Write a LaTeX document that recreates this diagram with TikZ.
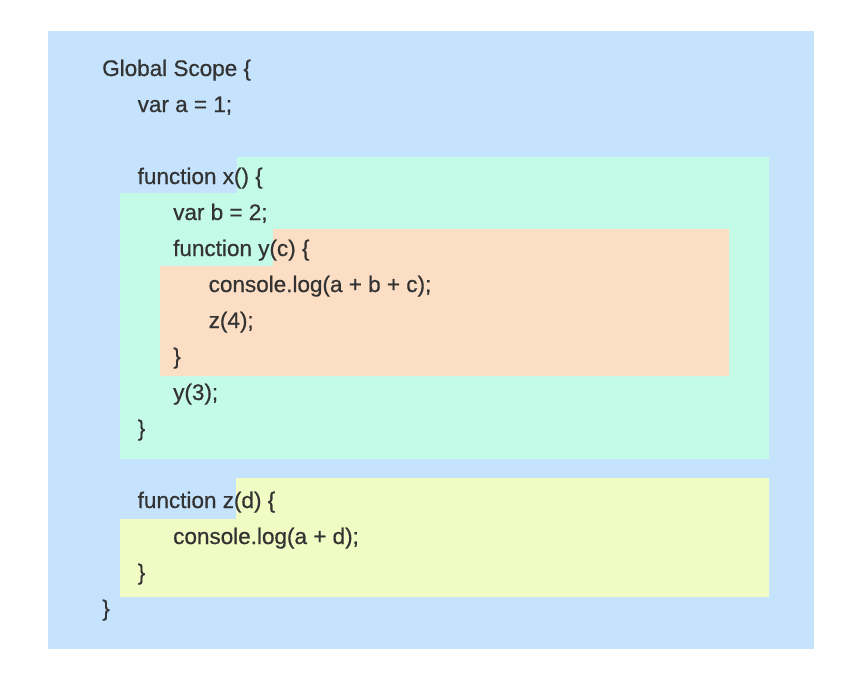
\documentclass[tikz,border=0pt]{standalone}
\usepackage{fontspec}
\setmainfont{Liberation Sans}[BoldFont={Liberation Sans}, BoldFeatures={FakeBold=0.6}]
\usepackage{tikz}
\usetikzlibrary{positioning}

\definecolor{globalblue}{RGB}{197,227,252}
\definecolor{scopex}{RGB}{196,251,232}
\definecolor{scopey}{RGB}{252,222,196}
\definecolor{scopez}{RGB}{240,252,196}
\definecolor{codegray}{RGB}{51,51,51}
\newcommand{\codefont}{\fontsize{22.5}{26}\selectfont\bfseries}

\begin{document}
\begin{tikzpicture}[x=1pt, y=-1pt,
    codeline/.style={anchor=base west, inner sep=0pt, text=codegray, font=\codefont}]
    \useasboundingbox (0,0) rectangle (860,677);
    % scope areas
    \fill[globalblue] (48,31) rectangle (814,649);
    \fill[scopex] (237,157) -- (769,157) -- (769,459) -- (120,459) -- (120,193) -- (237,193) -- cycle;
    \fill[scopey] (273,229) -- (729,229) -- (729,376) -- (160,376) -- (160,266) -- (273,266) -- cycle;
    \fill[scopez] (236,478) -- (769,478) -- (769,597) -- (120,597) -- (120,519) -- (236,519) -- cycle;
    % code lines
    \foreach \k/\ind/\txt in {0/0/Global Scope \{, 1/1/var a = 1;,
            3/1/function x() \{, 4/2/var b = 2;, 5/2/function y(c) \{,
            6/3/console.log(a + b + c);, 7/3/z(4);, 8/2/\}, 9/2/y(3);, 10/1/\},
            12/1/function z(d) \{, 13/2/console.log(a + d);, 14/1/\}, 15/0/\}} {
        \pgfmathsetmacro{\x}{102+35.5*\ind}
        \pgfmathsetmacro{\y}{76+36*\k}
        \node[codeline] (line\k) at (\x,\y) {\txt};
    }
\end{tikzpicture}
\end{document}
